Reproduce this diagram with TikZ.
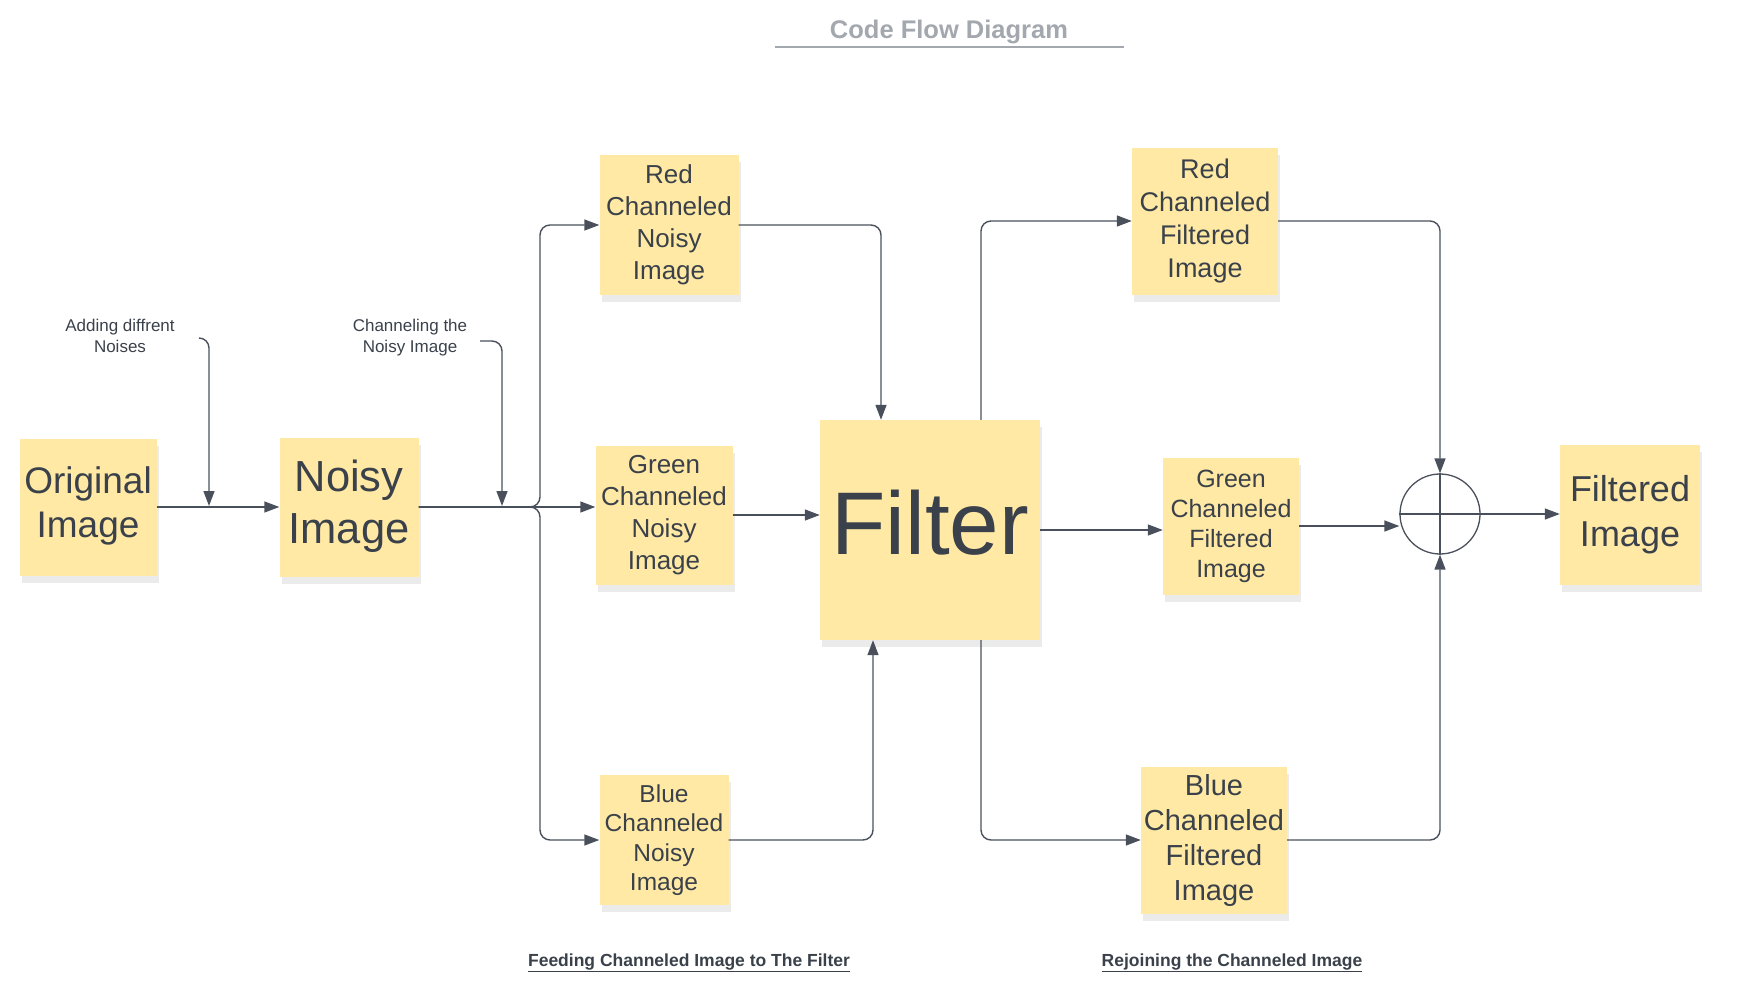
\documentclass[tikz,border=0pt]{standalone}
\usepackage{fontspec}
\setmainfont{Liberation Sans}
\usetikzlibrary{arrows.meta,shadows}

\newcommand{\setfs}[2]{\fontsize{#1}{#2}\selectfont}

\begin{document}
\begin{tikzpicture}[x=1pt, y=-1pt,
    sticky/.style={fill=noteFill, text=textColour, align=center, inner sep=0pt,
        drop shadow={opacity=0.16, shadow xshift=2pt, shadow yshift=-7pt}},
    flow/.style={draw=lineColour, line width=1.4pt, rounded corners=10pt,
        -{Triangle[length=15pt,width=11pt]}},
    remark/.style={text=textColour, align=center, font=\setfs{17}{21}},
    section/.style={text=textColour, font=\bfseries\setfs{17.5}{21}}]
    % Define colours
    \definecolor{noteFill}{HTML}{FFE9A4}
    \definecolor{textColour}{HTML}{3A414A}
    \definecolor{lineColour}{HTML}{4A505B}
    \definecolor{titleColour}{HTML}{A3A7AE}

    \useasboundingbox (0,0) rectangle (1737,1001);

    % Title
    \node[text=titleColour, font=\bfseries\setfs{25.5}{30}] (title) at (949,32) {Code Flow Diagram};
    \draw[titleColour, line width=1.5pt] (775,47) -- (1124,47);

    % Input side
    \node[sticky, minimum width=137pt, minimum height=137pt, font=\setfs{37}{44}] (orig) at (88,507) {\raisebox{3pt}{\begin{tabular}{@{}c@{}}Original\\Image\end{tabular}}};
    \node[sticky, minimum width=139pt, minimum height=139pt, font=\setfs{43.5}{52}] (noisy) at (349,507) {\raisebox{7pt}{\begin{tabular}{@{}c@{}}Noisy\\Image\end{tabular}}};

    % Channeled noisy images
    \node[sticky, minimum width=139pt, minimum height=140pt, font=\setfs{26}{32}] (rednoisy) at (669,225) {Red\\Channeled\\Noisy\\Image};
    \node[sticky, minimum width=137pt, minimum height=139pt, font=\setfs{26}{32}] (greennoisy) at (664,515) {Green\\Channeled\\Noisy\\Image};
    \node[sticky, minimum width=129pt, minimum height=130pt, font=\setfs{24.5}{29.5}] (bluenoisy) at (664,840) {Blue\\Channeled\\Noisy\\Image};

    % Filter
    \node[sticky, minimum width=220pt, minimum height=220pt, font=\setfs{89}{100}] (filter) at (930,530) {\raisebox{16pt}{Filter}};

    % Channeled filtered images
    \node[sticky, minimum width=146pt, minimum height=147pt, font=\setfs{27}{33}] (redfilt) at (1205,221) {Red\\Channeled\\Filtered\\Image};
    \node[sticky, minimum width=136pt, minimum height=137pt, font=\setfs{25}{30}] (greenfilt) at (1231,526) {Green\\Channeled\\Filtered\\Image};
    \node[sticky, minimum width=146pt, minimum height=147pt, font=\setfs{29}{35}] (bluefilt) at (1214,840) {Blue\\Channeled\\Filtered\\Image};

    % Summing junction and output
    \node[circle, draw=lineColour, line width=1.3pt, minimum size=80pt, inner sep=0pt] (sum) at (1440,514) {};
    \draw[lineColour, line width=1.1pt] (sum.west) -- (sum.east);
    \draw[lineColour, line width=1.1pt] (sum.north) -- (sum.south);
    \node[sticky, minimum width=140pt, minimum height=140pt, font=\setfs{36}{45}] (filtered) at (1630,515) {Filtered\\Image};

    % Remarks
    \node[remark] (noiselbl) at (120,336) {Adding diffrent\\Noises};
    \node[remark] (chanlbl) at (410,338) {Channeling the\\Noisy Image};
    \coordinate (noisefrom) at (199,338);
    \coordinate (noiseto) at (209,506);
    \coordinate (chanfrom) at (480,341);
    \coordinate (chanto) at (502,506);
    \coordinate (split) at (540,507);

    % Connections
    \draw[flow] (orig.east) -- (noisy.west);
    \draw[flow] (noisefrom) -| (noiseto);
    \draw[flow] (chanfrom) -| (chanto);
    \draw[flow] (noisy.east) -- (greennoisy.west |- noisy.east);
    \draw[flow] (noisy.east) -- (split) |- (rednoisy.west);
    \draw[flow] (noisy.east) -- (split) |- (bluenoisy.west);

    \draw[flow] (rednoisy.east) -| ([xshift=-49pt]filter.north);
    \draw[flow] (greennoisy.east) -- (filter.west |- greennoisy.east);
    \draw[flow] (bluenoisy.east) -| ([xshift=-57pt]filter.south);

    \draw[flow] ([xshift=51pt]filter.north) |- (redfilt.west);
    \draw[flow] (filter.east) -- (greenfilt.west |- filter.east);
    \draw[flow] ([xshift=51pt]filter.south) |- (bluefilt.west);

    \draw[flow] (redfilt.east) -| (sum.north);
    \draw[flow] (greenfilt.east) -- (greenfilt.east -| sum.west);
    \draw[flow] (bluefilt.east) -| (sum.south);
    \draw[flow] (sum.east) -- (filtered.west |- sum.east);

    % Section labels
    \node[section] (feedlbl) at (689,963) {\underline{Feeding Channeled Image to The Filter}};
    \node[section] (joinlbl) at (1232,963) {\underline{Rejoining the Channeled Image}};

\end{tikzpicture}
\end{document}
